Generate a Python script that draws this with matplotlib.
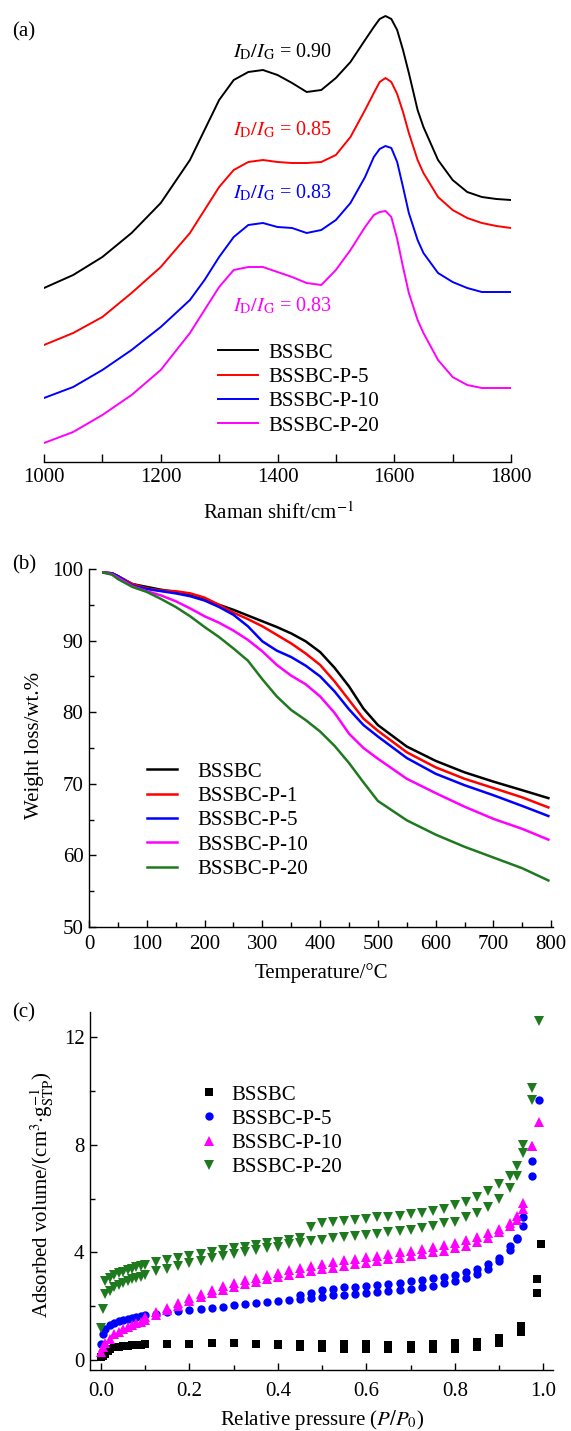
import matplotlib
matplotlib.use("Agg")
import matplotlib.pyplot as plt
from matplotlib.ticker import MultipleLocator, FormatStrFormatter

plt.rcParams["font.family"] = ["Liberation Serif", "DejaVu Serif"]
plt.rcParams["mathtext.fontset"] = "stix"
plt.rcParams["font.size"] = 15

W, H = 571, 1431  # figure size in px at dpi 100

# ---- (a) Raman spectra (arbitrary intensity units) ----
RAMAN_SHIFT = [1000, 1050, 1100, 1150, 1200, 1250, 1275, 1300, 1325, 1350, 1375, 1400, 1425, 1450,
               1475, 1500, 1525, 1550, 1565, 1575, 1585, 1595, 1605, 1615, 1625, 1640, 1650, 1675,
               1700, 1725, 1750, 1775, 1800]
RAMAN_BSSBC = [174, 187, 205, 229, 259, 302, 332, 362, 382, 390, 392, 387, 379, 370, 372, 384, 400,
               422, 435, 443, 446, 443, 432, 412, 389, 352, 335, 302, 282, 270, 265, 263, 262]
RAMAN_P5 = [117, 129, 145, 169, 195, 229, 252, 275, 292, 300, 302, 300, 299, 299, 300, 307, 325,
            352, 369, 380, 384, 380, 368, 350, 329, 302, 289, 265, 252, 244, 239, 236, 234]
RAMAN_P10 = [64, 75, 92, 112, 135, 162, 182, 205, 225, 237, 239, 235, 234, 229, 232, 242, 259,
             285, 305, 313, 316, 314, 300, 275, 249, 222, 209, 189, 180, 174, 170, 170, 170]
RAMAN_P20 = [19, 30, 47, 67, 92, 129, 152, 175, 192, 195, 195, 190, 185, 179, 177, 192, 212,
             235, 247, 250, 251, 245, 223, 195, 169, 142, 129, 102, 85, 77, 74, 74, 74]
RAMAN_LABELS = ["BSSBC", "BSSBC-P-5", "BSSBC-P-10", "BSSBC-P-20"]
ID_IG = ["0.90", "0.85", "0.83", "0.83"]

# ---- (b) TGA ----
TGA_TEMP = [25, 40, 50, 75, 100, 125, 150, 175, 200, 225, 250, 275, 300, 325, 350, 375, 400,
            425, 450, 475, 500, 550, 600, 650, 700, 750, 795]
TGA_BSSBC = [99.5, 99.4, 99.0, 97.9, 97.5, 97.1, 96.8, 96.3, 95.7, 95.0, 94.3, 93.5, 92.7, 91.9,
             91.0, 89.9, 88.4, 86.2, 83.6, 80.5, 78.2, 75.2, 73.2, 71.6, 70.3, 69.1, 68.0]
TGA_P1 = [99.5, 99.4, 99.0, 97.9, 97.3, 97.0, 96.9, 96.6, 96.0, 95.0, 93.9, 93.0, 92.0, 90.8,
          89.6, 88.2, 86.6, 84.3, 81.7, 79.1, 77.4, 74.4, 72.3, 70.7, 69.4, 68.1, 66.7]
TGA_P5 = [99.5, 99.4, 99.0, 97.7, 97.2, 96.9, 96.6, 96.2, 95.6, 94.7, 93.6, 92.0, 89.9, 88.6,
          87.7, 86.5, 85.0, 82.9, 80.4, 78.2, 76.6, 73.6, 71.4, 69.8, 68.4, 66.9, 65.5]
TGA_P10 = [99.5, 99.3, 98.8, 97.6, 96.9, 96.3, 95.5, 94.5, 93.4, 92.5, 91.4, 90.1, 88.5, 86.6,
           85.1, 83.9, 82.2, 79.9, 77.0, 75.0, 73.5, 70.7, 68.7, 66.8, 65.1, 63.7, 62.2]
TGA_P20 = [99.5, 99.2, 98.6, 97.5, 96.8, 95.8, 94.7, 93.4, 91.9, 90.5, 88.9, 87.2, 84.6, 82.2,
           80.3, 78.9, 77.3, 75.3, 72.9, 70.2, 67.6, 64.9, 62.9, 61.2, 59.7, 58.2, 56.5]
TGA_LABELS = ["BSSBC", "BSSBC-P-1", "BSSBC-P-5", "BSSBC-P-10", "BSSBC-P-20"]

# ---- (c) N2 isotherms: adsorption (ads) and desorption (des) branches ----
P_ADS = [0.0, 0.005, 0.01, 0.02, 0.03, 0.04, 0.05, 0.06, 0.07, 0.08, 0.09,
         0.1, 0.125, 0.15, 0.175, 0.2, 0.225, 0.25, 0.275, 0.3, 0.325, 0.35, 0.375, 0.4, 0.425,
         0.45, 0.475, 0.5, 0.525, 0.55, 0.575, 0.6, 0.625, 0.65, 0.675, 0.7, 0.725, 0.75, 0.775,
         0.8, 0.825, 0.85, 0.875, 0.9, 0.925, 0.94, 0.955, 0.975, 0.99]
P_DES = [0.1, 0.125, 0.15, 0.175, 0.2, 0.225, 0.25, 0.275, 0.3, 0.325, 0.35, 0.375, 0.4, 0.425,
         0.45, 0.475, 0.5, 0.525, 0.55, 0.575, 0.6, 0.625, 0.65, 0.675, 0.7, 0.725, 0.75, 0.775,
         0.8, 0.825, 0.85, 0.875, 0.9, 0.925, 0.94, 0.955, 0.975]

BET_BSSBC_P_ADS = [0.0, 0.005, 0.01, 0.015, 0.02, 0.03, 0.04, 0.05, 0.06, 0.07, 0.08, 0.09, 0.1, 0.15,
                   0.2, 0.25, 0.3, 0.35, 0.4, 0.45, 0.5, 0.55, 0.6, 0.65, 0.7, 0.75, 0.8, 0.85, 0.9,
                   0.95, 0.985, 0.995]
BET_BSSBC_V_ADS = [0.12, 0.16, 0.22, 0.32, 0.42, 0.47, 0.5, 0.52, 0.54, 0.55, 0.56, 0.57, 0.58, 0.6,
                   0.6, 0.62, 0.62, 0.58, 0.55, 0.5, 0.46, 0.4, 0.4, 0.4, 0.4, 0.4, 0.42, 0.48, 0.62,
                   1.05, 2.5, 4.3]
BET_BSSBC_P_DES = [0.4, 0.45, 0.5, 0.55, 0.6, 0.65, 0.7, 0.75, 0.8, 0.85, 0.9, 0.95, 0.985]
BET_BSSBC_V_DES = [0.6, 0.6, 0.58, 0.58, 0.58, 0.56, 0.56, 0.58, 0.62, 0.68, 0.82, 1.25, 3.0]

BET_P5_ADS = [0.6, 0.95, 1.15, 1.3, 1.38, 1.44, 1.5, 1.54, 1.58, 1.61, 1.64,
              1.66, 1.72, 1.78, 1.83, 1.87, 1.91, 1.95, 1.99, 2.03, 2.07, 2.11, 2.15, 2.19, 2.23,
              2.27, 2.31, 2.36, 2.4, 2.43, 2.45, 2.48, 2.52, 2.56, 2.6, 2.65, 2.7, 2.77, 2.85,
              2.93, 3.05, 3.2, 3.4, 3.7, 4.1, 4.5, 5.0, 6.85, 9.65]
BET_P5_P_DES = [0.45, 0.475, 0.5, 0.525, 0.55, 0.575, 0.6, 0.625, 0.65, 0.675, 0.7, 0.725, 0.75,
                0.775, 0.8, 0.825, 0.85, 0.875, 0.9, 0.925, 0.94, 0.955, 0.975]
BET_P5_V_DES = [2.4, 2.48, 2.6, 2.65, 2.7, 2.73, 2.77, 2.8, 2.84, 2.88, 2.93, 2.98, 3.04,
                3.1, 3.18, 3.28, 3.4, 3.58, 3.8, 4.25, 4.55, 5.3, 7.4]

BET_P10_ADS = [0.3, 0.5, 0.65, 0.8, 0.95, 1.05, 1.15, 1.22, 1.3, 1.37, 1.43,
               1.5, 1.68, 1.85, 2.02, 2.18, 2.35, 2.5, 2.62, 2.73, 2.83, 2.92, 3.02, 3.1, 3.18,
               3.25, 3.32, 3.38, 3.44, 3.5, 3.56, 3.62, 3.68, 3.74, 3.8, 3.87, 3.93, 4.0, 4.07,
               4.15, 4.25, 4.38, 4.55, 4.75, 5.0, 5.2, 5.6, 7.95, 8.85]
BET_P10_DES = [1.6, 1.78, 1.95, 2.12, 2.3, 2.47, 2.62, 2.75, 2.86, 2.96, 3.06, 3.16, 3.25, 3.33,
               3.42, 3.5, 3.57, 3.64, 3.71, 3.77, 3.83, 3.88, 3.94, 4.0, 4.07, 4.13, 4.2, 4.27,
               4.35, 4.45, 4.58, 4.72, 4.88, 5.1, 5.35, 5.85, 7.95]

BET_P20_ADS = [1.2, 1.9, 2.45, 2.55, 2.7, 2.8, 2.87, 2.95, 3.0, 3.05, 3.1,
               3.17, 3.3, 3.4, 3.5, 3.6, 3.7, 3.8, 3.87, 3.95, 4.03, 4.1, 4.17, 4.22, 4.3,
               4.35, 4.42, 4.48, 4.53, 4.57, 4.62, 4.66, 4.7, 4.75, 4.8, 4.85, 4.92, 5.0, 5.08,
               5.15, 5.3, 5.45, 5.7, 6.0, 6.4, 6.85, 7.7, 9.65, 12.6]
BET_P20_P_DES_LOW = [0.01, 0.02, 0.03, 0.04, 0.05, 0.06, 0.07, 0.08, 0.09]
BET_P20_V_DES_LOW = [2.95, 3.05, 3.15, 3.22, 3.28, 3.35, 3.4, 3.45, 3.5]
BET_P20_DES = [3.55, 3.65, 3.72, 3.8, 3.88, 3.95, 4.03, 4.1, 4.17, 4.22, 4.28, 4.35, 4.4, 4.47,
               4.55, 4.95, 5.08, 5.13, 5.18, 5.22, 5.26, 5.3, 5.33, 5.37, 5.42, 5.47, 5.55, 5.63,
               5.75, 5.88, 6.05, 6.3, 6.55, 6.85, 7.2, 8.0, 10.1]
BET_LABELS = ["BSSBC", "BSSBC-P-5", "BSSBC-P-10", "BSSBC-P-20"]

GREEN = "#1f7a1f"


def fx(x):
    return x / W


def fy(y):
    return 1 - y / H


def add_axes(fig, left, top, right, bottom):
    return fig.add_axes([fx(left), fy(bottom), (right - left) / W, (bottom - top) / H])


def style_ticks(ax):
    ax.tick_params(which="both", direction="in", width=1.0, colors="black")
    ax.tick_params(which="major", length=5)
    ax.tick_params(which="minor", length=3.5)
    for s in ("top", "right"):
        ax.spines[s].set_visible(False)
    for s in ("left", "bottom"):
        ax.spines[s].set_linewidth(1.0)


def legend_at(ax, fig, x, y, **kw):
    # upper-left corner of the legend placed at pixel (x, y)
    return ax.legend(loc="upper left", bbox_to_anchor=(fx(x), fy(y)),
                     bbox_transform=fig.transFigure, frameon=False, borderpad=0,
                     borderaxespad=0, fontsize=15, **kw)


def main():
    fig = plt.figure(figsize=(W / 100, H / 100), dpi=100)

    # ---------------- (a) ----------------
    ax = add_axes(fig, 44, 10, 511, 462)
    colors_a = ["black", "#ff0000", "#0000ff", "#ff00ff"]
    for ys, c, lbl in zip([RAMAN_BSSBC, RAMAN_P5, RAMAN_P10, RAMAN_P20], colors_a, RAMAN_LABELS):
        ax.plot(RAMAN_SHIFT, ys, color=c, lw=1.4, label=lbl)
    ax.set_xlim(1000, 1800)
    ax.set_ylim(0, 452)
    ax.xaxis.set_major_locator(MultipleLocator(200))
    ax.xaxis.set_minor_locator(MultipleLocator(100))
    ax.tick_params(which="both", direction="in", length=5.5, width=1.0, pad=4)
    ax.set_yticks([])
    for s in ("top", "right", "left"):
        ax.spines[s].set_visible(False)
    ax.spines["bottom"].set_linewidth(1.0)
    for txt, c, yy in zip(ID_IG, colors_a, [52, 130, 193, 306]):
        fig.text(fx(332), fy(yy), r"$I_{\rm D}/I_{\rm G}$ = " + txt, color=c,
                 ha="right", va="center", fontsize=14.5)
    legend_at(ax, fig, 218, 343, handlelength=1.9, handletextpad=0.5, labelspacing=0.23)
    fig.text(fx(278), fy(513), r"Raman shift/cm$^{-1}$", ha="center", va="center", fontsize=15)
    fig.text(fx(24), fy(32), "(a)", ha="center", va="center", fontsize=15)

    # ---------------- (b) ----------------
    ax = add_axes(fig, 89, 569, 553, 927)
    colors_b = ["black", "#ff0000", "#0000ff", "#ff00ff", GREEN]
    for ys, c, lbl in zip([TGA_BSSBC, TGA_P1, TGA_P5, TGA_P10, TGA_P20], colors_b, TGA_LABELS):
        ax.plot(TGA_TEMP, ys, color=c, lw=1.8, label=lbl)
    ax.set_xlim(0, 803)
    ax.set_ylim(50, 100)
    ax.xaxis.set_major_locator(MultipleLocator(100))
    ax.xaxis.set_minor_locator(MultipleLocator(50))
    ax.yaxis.set_major_locator(MultipleLocator(10))
    ax.yaxis.set_minor_locator(MultipleLocator(5))
    style_ticks(ax)
    ax.tick_params(axis="x", which="both", pad=6)
    ax.tick_params(axis="y", which="both", pad=4)
    legend_at(ax, fig, 147, 762, handlelength=1.45, handletextpad=0.95, labelspacing=0.23)
    fig.text(fx(321), fy(973), "Temperature/°C", ha="center", va="center", fontsize=15)
    fig.text(fx(35), fy(745), "Weight loss/wt.%", rotation=90, ha="center", va="center", fontsize=15)
    fig.text(fx(24), fy(565), "(b)", ha="center", va="center", fontsize=15)

    # ---------------- (c) ----------------
    ax = add_axes(fig, 90, 1012, 553, 1370)
    ax.plot(BET_BSSBC_P_ADS, BET_BSSBC_V_ADS, "s", color="black", ms=5.5, mew=0, label=BET_LABELS[0])
    ax.plot(BET_BSSBC_P_DES, BET_BSSBC_V_DES, "s", color="black", ms=5.5, mew=0)
    ax.plot(P_ADS, BET_P5_ADS, "o", color="#0000ff", ms=6, mew=0, label=BET_LABELS[1])
    ax.plot(BET_P5_P_DES, BET_P5_V_DES, "o", color="#0000ff", ms=6, mew=0)
    ax.plot(P_ADS, BET_P10_ADS, "^", color="#ff00ff", ms=6.5, mew=0, label=BET_LABELS[2])
    ax.plot(P_DES, BET_P10_DES, "^", color="#ff00ff", ms=6.5, mew=0)
    ax.plot(P_ADS, BET_P20_ADS, "v", color=GREEN, ms=6.5, mew=0, label=BET_LABELS[3])
    ax.plot(BET_P20_P_DES_LOW, BET_P20_V_DES_LOW, "v", color=GREEN, ms=6.5, mew=0)
    ax.plot(P_DES, BET_P20_DES, "v", color=GREEN, ms=6.5, mew=0)
    ax.set_xlim(-0.025, 1.022)
    ax.set_ylim(-0.37, 12.94)
    ax.xaxis.set_major_locator(MultipleLocator(0.2))
    ax.xaxis.set_minor_locator(MultipleLocator(0.1))
    ax.yaxis.set_major_locator(MultipleLocator(4))
    ax.yaxis.set_minor_locator(MultipleLocator(2))
    ax.xaxis.set_major_formatter(FormatStrFormatter("%.1f"))
    style_ticks(ax)
    ax.tick_params(axis="x", which="both", pad=9)
    ax.tick_params(axis="y", which="both", pad=4)
    legend_at(ax, fig, 199, 1085, handlelength=1.0, numpoints=1, handletextpad=0.55,
              labelspacing=0.22)
    fig.text(fx(322), fy(1420), r"Relative pressure ($P/P_0$)", ha="center", va="center", fontsize=15)
    fig.text(fx(42), fy(1195), r"Adsorbed volume/(cm$^3$$\cdot$g$_{\rm STP}^{-1}$)", rotation=90,
             ha="center", va="center", fontsize=15)
    fig.text(fx(24), fy(1013), "(c)", ha="center", va="center", fontsize=15)

    fig.savefig("out.png", dpi=100)
    plt.close(fig)


if __name__ == "__main__":
    main()
